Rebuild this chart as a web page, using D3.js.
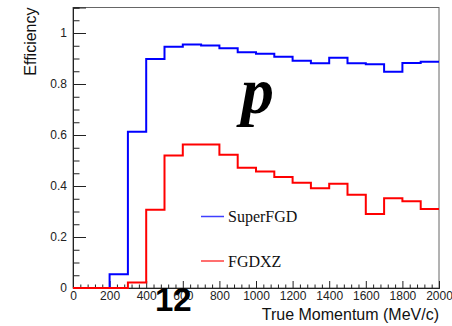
<!DOCTYPE html>
<html>
<head>
<meta charset="utf-8">
<script src="https://cdn.jsdelivr.net/npm/d3@7"></script>
<style>
  html, body { margin: 0; padding: 0; background: #fff; }
  svg { display: block; }
</style>
</head>
<body>
<svg id="chart" width="452" height="326"></svg>
<script>
// Proton reconstruction efficiency vs true momentum, 100 MeV/c bins
const binEdges = d3.range(0, 2001, 100);
const superFGD = [0, 0, 0.054, 0.613, 0.898, 0.946, 0.955, 0.951, 0.940, 0.925,
                  0.919, 0.907, 0.891, 0.881, 0.903, 0.881, 0.877, 0.848, 0.882, 0.887];
const fgdXZ    = [0, 0, 0, 0.022, 0.307, 0.520, 0.563, 0.563, 0.523, 0.472,
                  0.457, 0.435, 0.413, 0.391, 0.409, 0.366, 0.290, 0.352, 0.340, 0.310];
const seriesNames = ["SuperFGD", "FGDXZ"];
const yMajorTicks = [0, 0.2, 0.4, 0.6, 0.8, 1];
const xMajorTicks = d3.range(0, 2001, 200);

const svg = d3.select("#chart");
const plotLeft = 73, plotRight = 439, plotTop = 7.5, plotBottom = 288;

const x = d3.scaleLinear().domain([0, 2000]).range([plotLeft, plotRight]);
const y = d3.scaleLinear().domain([0, 1.1]).range([plotBottom, plotTop]);

const sans = "'Liberation Sans', Arial, Helvetica, sans-serif";
const serif = "'Liberation Serif', 'Times New Roman', serif";

// frame
svg.append("rect")
  .attr("x", plotLeft).attr("y", plotTop)
  .attr("width", plotRight - plotLeft).attr("height", plotBottom - plotTop)
  .attr("fill", "none").attr("stroke", "#666").attr("stroke-width", 1);

// minor ticks
const yMinor = d3.range(0, 1.1001, 0.05).filter(v => !yMajorTicks.some(m => Math.abs(m - v) < 1e-6));
const xMinor = d3.range(0, 2001, 40).filter(v => v % 200 !== 0);

const yAxisMinor = svg.append("g").attr("transform", `translate(${plotLeft},0)`)
  .call(d3.axisLeft(y).tickValues(yMinor).tickSize(-6.5).tickFormat(""));
const xAxisMinor = svg.append("g").attr("transform", `translate(0,${plotBottom})`)
  .call(d3.axisBottom(x).tickValues(xMinor).tickSize(-3.5).tickFormat(""));

const yAxis = svg.append("g").attr("transform", `translate(${plotLeft},0)`)
  .call(d3.axisLeft(y).tickValues(yMajorTicks).tickSize(-13).tickPadding(6)
        .tickFormat(d => d3.format(".1~f")(d)));
const xAxis = svg.append("g").attr("transform", `translate(0,${plotBottom})`)
  .call(d3.axisBottom(x).tickValues(xMajorTicks).tickSize(-7).tickPadding(3)
        .tickFormat(d3.format("d")));

[yAxisMinor, xAxisMinor, yAxis, xAxis].forEach(g => {
  g.select(".domain").attr("stroke", "#222");
  g.selectAll(".tick line").attr("stroke", "#222");
  g.selectAll("text").attr("font-family", sans).attr("font-size", 12).attr("fill", "#222");
});

// histograms
function steps(values) {
  const pts = values.map((v, i) => [binEdges[i], v]);
  pts.push([binEdges[binEdges.length - 1], values[values.length - 1]]);
  return pts;
}
const line = d3.line().x(d => x(d[0])).y(d => y(d[1])).curve(d3.curveStepAfter);
const colors = ["#0000ff", "#ff0000"];
[superFGD, fgdXZ].forEach((vals, i) => {
  svg.append("path").datum(steps(vals))
    .attr("d", line).attr("fill", "none")
    .attr("stroke", colors[i]).attr("stroke-width", 2);
});

// legend
const legendY = [216.5, 261];
seriesNames.forEach((name, i) => {
  svg.append("line").attr("x1", 201).attr("x2", 224)
    .attr("y1", legendY[i]).attr("y2", legendY[i])
    .attr("stroke", colors[i]).attr("stroke-width", 1.5).attr("opacity", 0.75);
  svg.append("text").attr("x", 228).attr("y", legendY[i] + 5.5)
    .attr("font-family", serif).attr("font-size", 16).attr("fill", "#111")
    .text(name);
});

// particle label
svg.append("text").attr("x", 241).attr("y", 113)
  .attr("font-family", serif).attr("font-size", 66)
  .attr("font-weight", "bold").attr("font-style", "italic")
  .text("p");

// axis titles
svg.append("text").attr("x", plotRight).attr("y", 319.5)
  .attr("text-anchor", "end").attr("font-family", sans).attr("font-size", 16)
  .attr("fill", "#111").text("True Momentum (MeV/c)");
svg.append("text")
  .attr("transform", `translate(36,${plotTop}) rotate(-90)`)
  .attr("text-anchor", "end").attr("font-family", sans).attr("font-size", 16)
  .attr("fill", "#111").text("Efficiency");

// page number
svg.append("text").attr("x", 155).attr("y", 311)
  .attr("font-family", sans).attr("font-size", 33).attr("font-weight", "bold")
  .attr("fill", "#000").text("12");
</script>
</body>
</html>
